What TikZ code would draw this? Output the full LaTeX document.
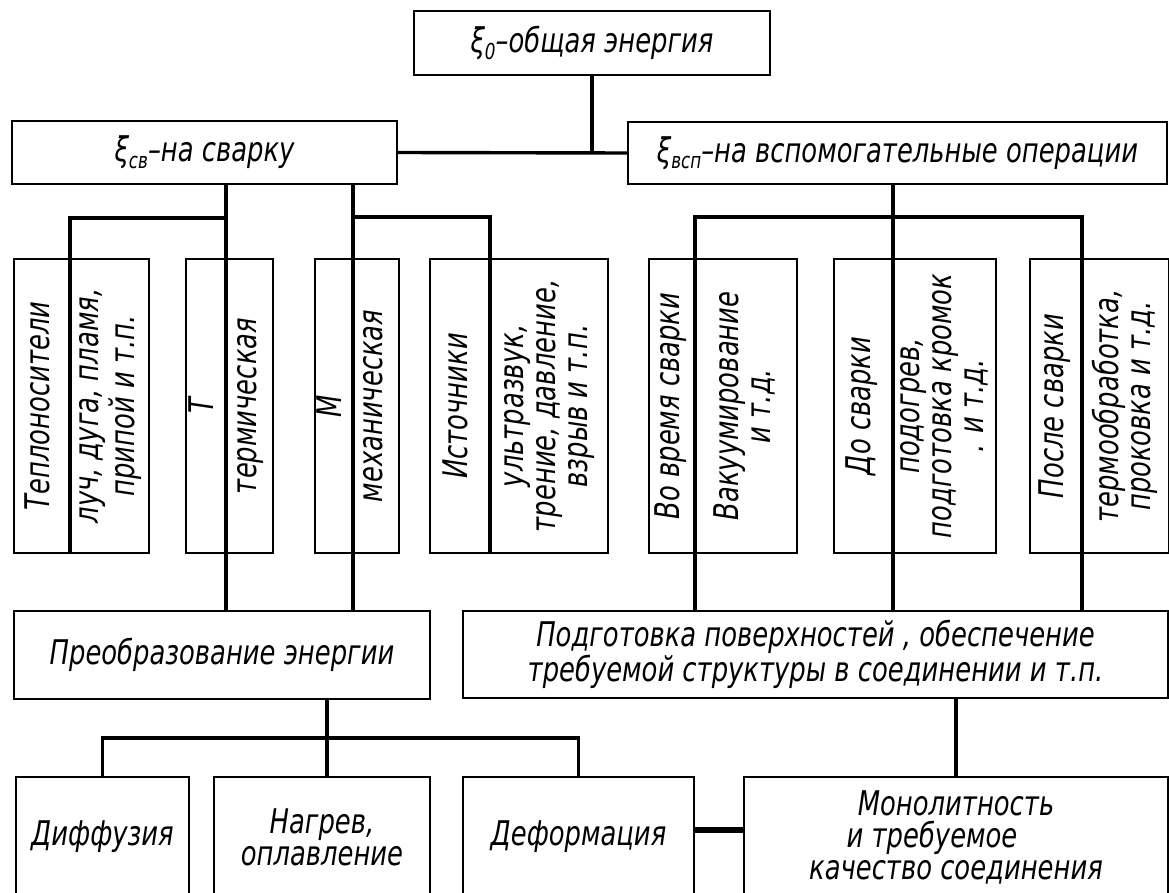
\documentclass[tikz,border=0pt]{standalone}
\usepackage{fontspec}
\setmainfont{DejaVu Sans}[FakeStretch=0.76]
\newcommand{\sbs}[1]{\raisebox{-0.35ex}{\fontsize{22}{22}\selectfont #1}}
\newcommand{\vtext}[1]{\rotatebox{90}{\begin{tabular}{@{}c@{}}#1\end{tabular}}}

\begin{document}
\begin{tikzpicture}[x=1pt,y=-1pt,
  every node/.style={font=\fontsize{34}{32}\selectfont\itshape},
  box/.style={draw, line width=2pt, inner sep=0pt, anchor=north west, align=center},
  half/.style={box, minimum height=294pt},
  low/.style={box, minimum height=120pt},
  wire/.style={line width=3.4pt}]
\useasboundingbox (0,0) rectangle (1169,893);
\node[box, minimum width=356pt, minimum height=64pt] (top) at (413,10) {ξ\sbs{0}–общая энергия};
\node[box, minimum width=385pt, minimum height=63pt] (weld) at (11,120) {ξ\sbs{св}–на сварку};
\node[box, minimum width=539pt, minimum height=62pt] (aux) at (627,121) {ξ\sbs{всп}–на вспомогательные операции};
\draw [wire] (top.south) -- (top.south |- weld.east);
\draw [wire] (weld.east) -- (aux.west);
\node[half, minimum width=55pt] (t1l) at (13,258) {\vtext{Теплоносители}};
\node[half, minimum width=78pt] (t1r) at (t1l.north east) {\vtext{луч, дуга, пламя,\\припой и т.п.}};
\node[half, minimum width=39pt] (t2l) at (185,258) {\vtext{Т}};
\node[half, minimum width=46pt] (t2r) at (t2l.north east) {\vtext{термическая}};
\node[half, minimum width=37pt] (t3l) at (314,258) {\vtext{М}};
\node[half, minimum width=45pt] (t3r) at (t3l.north east) {\vtext{механическая}};
\node[half, minimum width=59pt] (t4l) at (429,258) {\vtext{Источники}};
\node[half, minimum width=117pt] (t4r) at (t4l.north east) {\vtext{ультразвук,\\трение, давление,\\взрыв и т.п.}};
\node[half, minimum width=45pt] (t5l) at (648,258) {\vtext{Во время сварки}};
\node[half, minimum width=101pt] (t5r) at (t5l.north east) {\vtext{Вакуумирование\\и т.д.}};
\node[half, minimum width=58pt] (t6l) at (833,258) {\vtext{До сварки}};
\node[half, minimum width=102pt] (t6r) at (t6l.north east) {\vtext{подогрев,\\подготовка кромок\\. и т.д.}};
\node[half, minimum width=51pt] (t7l) at (1029,258) {\vtext{После сварки}};
\node[half, minimum width=86pt] (t7r) at (t7l.north east) {\vtext{термообработка,\\проковка и т.д.}};
\coordinate (c1) at (224,218);
\coordinate (c2) at (351,217);
\coordinate (c3) at (891,217);
\draw [wire] (weld.south -| t2l.east) -- (t2l.north east);
\draw [wire] (t1l.north east) |- (c1);
\draw [wire] (weld.south -| t3l.east) -- (t3l.north east);
\draw [wire] (c2) -| (t4l.north east);
\draw [wire] (aux.south -| t6l.east) -- (t6l.north east);
\draw [wire] (t5l.north east) |- (c3) -| (t7l.north east);
\node[box, minimum width=416pt, minimum height=88pt] (conv) at (13,610) {Преобразование энергии};
\node[box, minimum width=705pt, minimum height=87pt, font=\fontsize{34}{29}\selectfont\itshape] (prep) at (462,610)
  {Подготовка поверхностей , обеспечение\\требуемой структуры в соединении и т.п.};
\draw [wire] (t2l.south east) -- (t2l.south east |- conv.north);
\draw [wire] (t3l.south east) -- (t3l.south east |- conv.north);
\draw [wire] (t5l.south east) -- (t5l.south east |- prep.north);
\draw [wire] (t6l.south east) -- (t6l.south east |- prep.north);
\draw [wire] (t7l.south east) -- (t7l.south east |- prep.north);
\node[low, minimum width=173pt] (diff) at (15,776) {Диффузия};
\node[low, minimum width=216pt] (heat) at (213,776) {Нагрев,\\оплавление};
\node[low, minimum width=231pt] (deform) at (462,776) {Деформация};
\node[low, minimum width=424pt] (mono) at (743,776) {Монолитность\\\mbox{и требуемое\kern48pt}\\качество соединения};
\coordinate (c4) at (327,738);
\coordinate (c5) at (700,830);
\draw [wire] (conv.south -| c4) -- (heat.north -| c4);
\draw [wire] (diff.north) |- (c4) -| (deform.north);
\draw [wire] (prep.south -| mono.north) -- (mono.north);
\draw [wire, line width=6pt] (deform.east |- c5) -- (mono.west |- c5);
\end{tikzpicture}
\end{document}
